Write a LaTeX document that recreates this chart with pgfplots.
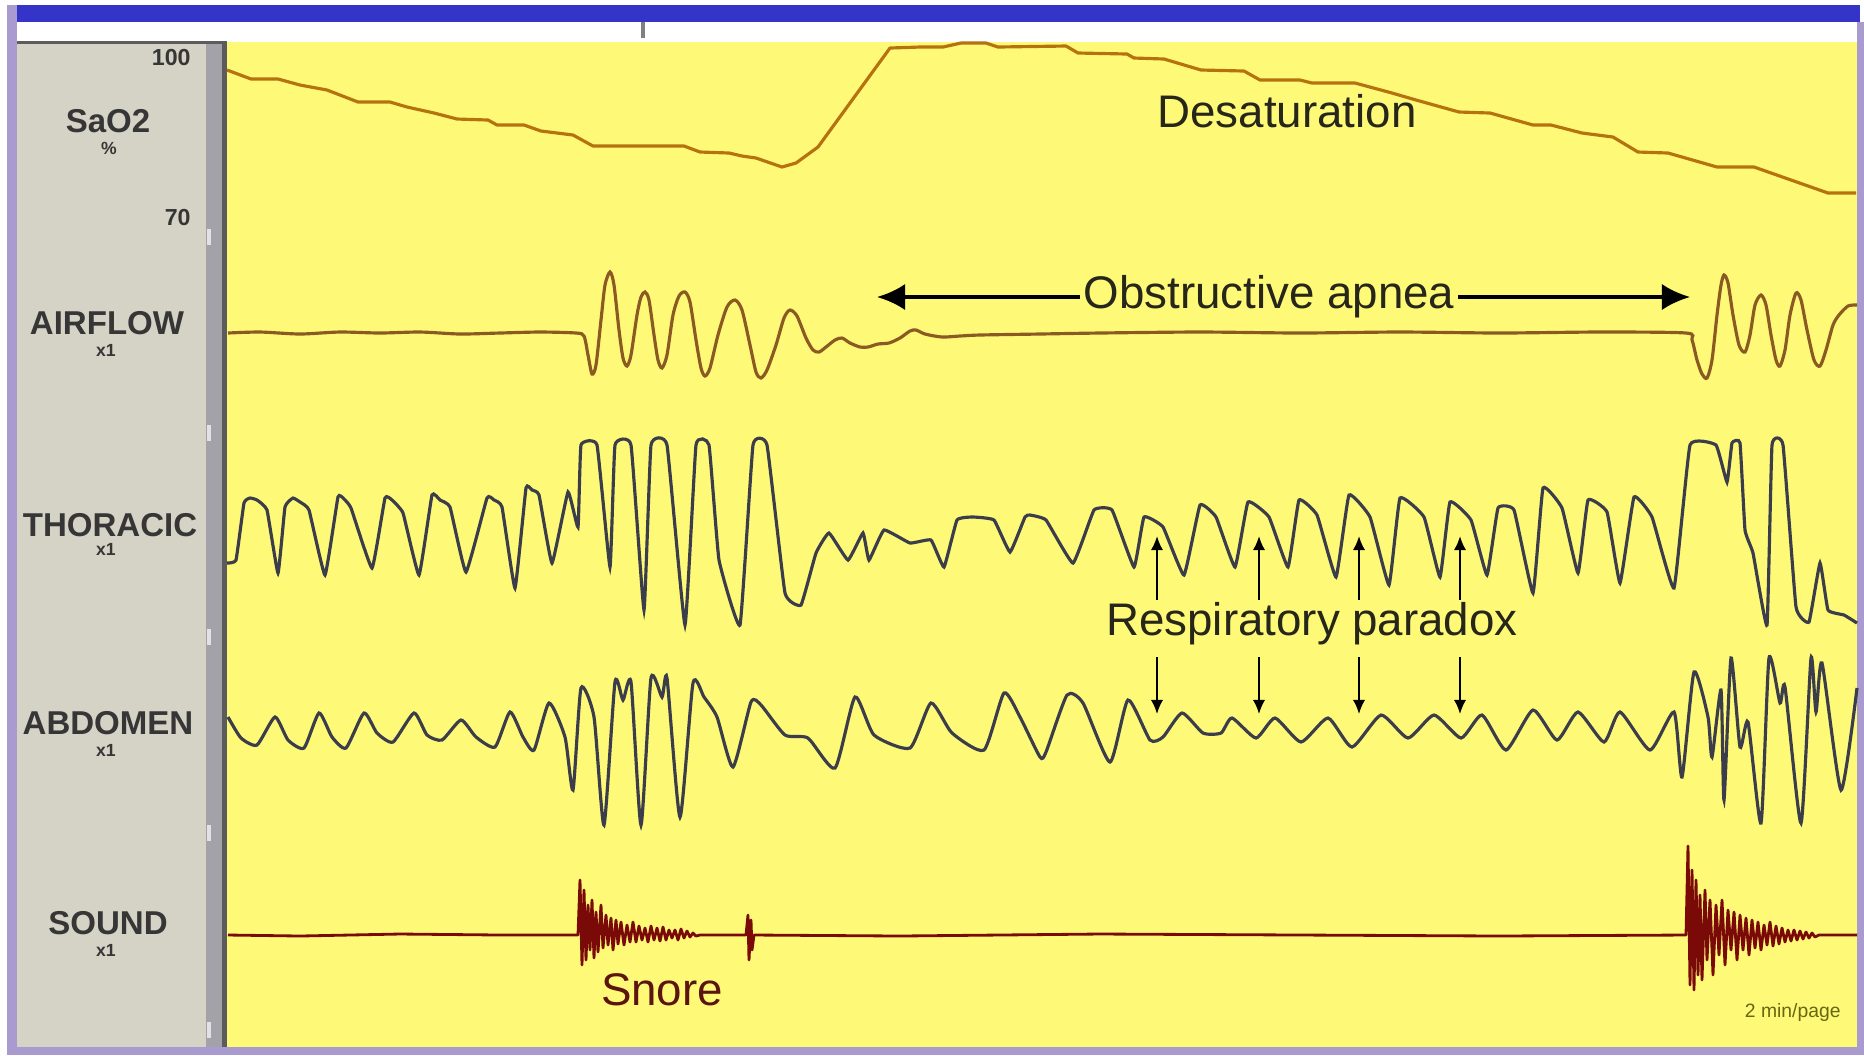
\documentclass[border=0pt]{standalone}
\usepackage{pgfplots}
\pgfplotsset{compat=1.18}
\usepackage{fontspec}
\setmainfont{Liberation Sans}
\usetikzlibrary{arrows.meta}
\definecolor{bgyellow}{HTML}{FFF978}
\definecolor{panelgray}{HTML}{D5D3C6}
\definecolor{stripgray}{HTML}{A3A2A8}
\definecolor{darkline}{HTML}{5C5C5C}
\definecolor{frameblue}{HTML}{3434C8}
\definecolor{framepurple}{HTML}{A99BCF}
\definecolor{saocol}{HTML}{B5720E}
\definecolor{aircol}{HTML}{8A5A22}
\definecolor{effcol}{HTML}{3B3D4A}
\definecolor{sndcol}{HTML}{7A0A08}
\definecolor{labcol}{HTML}{363636}
\definecolor{anncol}{HTML}{26261A}
\definecolor{snorecol}{HTML}{5C1410}
\definecolor{tickmark}{HTML}{E2E2E6}
\begin{document}
\begin{tikzpicture}
\begin{axis}[width=18.64cm, height=10.55cm, scale only axis,
  xmin=0, xmax=1864, ymin=0, ymax=1055, y dir=reverse,
  hide axis, clip=false]
% frame and panels
\fill[white] (axis cs:0,0) rectangle (axis cs:1864,1055);
\fill[frameblue] (axis cs:17,5) rectangle (axis cs:1860,22);
\fill[framepurple] (axis cs:7,5) rectangle (axis cs:17,1055);
\fill[framepurple] (axis cs:7,1047) rectangle (axis cs:1864,1055);
\fill[framepurple] (axis cs:1857,22) rectangle (axis cs:1864,1055);
\fill[panelgray] (axis cs:17,42) rectangle (axis cs:213,1047);
\fill[stripgray] (axis cs:206,42) rectangle (axis cs:222,1047);
\fill[darkline] (axis cs:222,42) rectangle (axis cs:227,1047);
\fill[bgyellow] (axis cs:227,42) rectangle (axis cs:1857,1047);
\fill[darkline] (axis cs:17,41) rectangle (axis cs:227,44);
\fill[gray] (axis cs:641,22) rectangle (axis cs:645,38);
\fill[tickmark] (axis cs:207,229) rectangle (axis cs:211,245);
\fill[tickmark] (axis cs:207,425) rectangle (axis cs:211,441);
\fill[tickmark] (axis cs:207,629) rectangle (axis cs:211,645);
\fill[tickmark] (axis cs:207,825) rectangle (axis cs:211,841);
\fill[tickmark] (axis cs:207,1022) rectangle (axis cs:211,1038);
% SaO2
\addplot[saocol, line width=0.9pt, line join=round] coordinates {
(227,70)(251,79)(278,79)(300,85)(327,90)(358,102)(390,102)(407,107)(434,113)(457,119)(488,120)(497,125)(524,125)(541,131)(573,135)(593,146)(684,146)(700,152)(729,153)(742,156)(756,158)(782,167)(796,163)(818,147)(890,48)(920,47)(943,47)(961,43)(986,43)(998,47)(1066,46)(1078,53)(1127,54)(1134,58)(1164,59)(1201,70)(1244,71)(1260,80)(1300,80)(1312,83)(1355,83)(1392,93)(1416,100)(1459,112)(1490,113)(1533,125)(1551,125)(1582,133)(1613,137)(1638,152)(1668,153)(1717,167)(1754,167)(1791,180)(1828,193)(1856,193)
};
% AIRFLOW
\addplot[aircol, line width=0.9pt, smooth, tension=0.45] coordinates {
(228,333)(260,332)(300,334)(340,332)(380,333)(420,332)(460,334)(500,333)(540,332)(576,333)(584,336)(588,355)(592,374)(596,365)(601,320)(605,285)(610,272)(614,285)(619,330)(623,358)(627,366)(631,355)(637,315)(641,297)(645,292)(649,300)(654,335)(658,360)(662,368)(667,355)(673,315)(679,296)(685,292)(690,302)(696,340)(701,368)(705,376)(710,368)(718,335)(727,307)(735,300)(742,310)(750,345)(756,372)(761,378)(767,370)(776,345)(784,318)(790,310)(797,316)(806,338)(813,350)(819,352)(826,347)(835,340)(842,338)(850,343)(860,347)(868,347)(878,344)(889,343)(900,338)(910,331)(916,330)(925,334)(942,337)(960,336)(980,335)(1040,334)(1100,333)(1200,332)(1300,333)(1400,332)(1500,333)(1600,332)(1686,333)(1692,340)(1697,360)(1702,374)(1707,378)(1712,360)(1717,315)(1721,285)(1724,275)(1728,283)(1733,315)(1739,345)(1745,352)(1750,335)(1755,305)(1761,295)(1766,305)(1771,335)(1776,360)(1780,366)(1785,350)(1790,315)(1796,293)(1801,300)(1807,330)(1814,360)(1820,366)(1826,350)(1833,325)(1839,315)(1848,306)(1857,305)
};
% THORACIC
\addplot[effcol, line width=0.9pt, smooth, tension=0.2] coordinates {
(227,563)(236,560)(244,503)(250,498)(257,500)(267,510)(278,573)(285,507)(293,498)(300,502)(309,510)(325,575)(338,497)(344,499)(351,508)(372,568)(385,498)(392,500)(403,513)(419,575)(432,495)(440,500)(450,507)(466,572)(487,498)(494,500)(502,507)(515,588)(526,488)(532,490)(539,495)(552,563)(568,492)(578,527)(581,445)(597,445)(610,567)(615,445)(631,445)(644,610)(651,445)(667,445)(685,625)(696,445)(709,445)(719,560)(740,625)(753,445)(767,445)(785,593)(801,605)(816,553)(829,533)(848,560)(863,533)(869,560)(884,530)(910,543)(931,540)(944,567)(957,520)(973,517)(994,520)(1010,552)(1025,517)(1030,515)(1046,520)(1073,563)(1094,510)(1112,510)(1134,567)(1144,517)(1163,527)(1184,575)(1200,505)(1216,517)(1235,567)(1248,502)(1269,517)(1288,567)(1299,500)(1317,515)(1336,577)(1349,495)(1370,517)(1389,585)(1400,498)(1424,517)(1440,577)(1450,502)(1471,520)(1487,575)(1498,508)(1514,510)(1533,593)(1543,488)(1562,508)(1578,573)(1588,500)(1607,512)(1620,583)(1634,497)(1652,517)(1674,588)(1690,445)(1716,445)(1727,482)(1732,443)(1740,443)(1745,530)(1753,553)(1767,625)(1772,445)(1783,445)(1796,607)(1809,622)(1820,563)(1828,610)(1844,615)(1857,623)
};
% ABDOMEN
\addplot[effcol, line width=0.9pt, smooth, tension=0.35] coordinates {
(228,717)(241,738)(257,745)(275,717)(288,740)(304,748)(319,713)(332,737)(346,748)(364,713)(377,733)(393,742)(414,713)(427,735)(442,740)(461,720)(476,737)(495,747)(510,712)(523,737)(534,750)(549,703)(565,737)(573,790)(581,688)(594,717)(604,825)(615,682)(623,700)(631,682)(641,825)(651,678)(662,697)(667,678)(680,817)(693,683)(704,697)(717,717)(733,767)(751,702)(761,705)(785,735)(808,738)(835,768)(855,697)(874,735)(910,748)(931,703)(952,733)(984,750)(1004,693)(1020,717)(1040,757)(1046,752)(1067,695)(1083,703)(1110,762)(1128,700)(1150,740)(1163,737)(1182,713)(1203,733)(1221,733)(1232,718)(1256,738)(1275,718)(1301,742)(1328,718)(1352,747)(1381,715)(1408,738)(1434,715)(1461,738)(1482,715)(1506,750)(1533,710)(1557,740)(1578,712)(1604,742)(1620,712)(1650,750)(1674,712)(1682,777)(1694,672)(1708,717)(1712,757)(1721,690)(1724,800)(1731,658)(1740,747)(1748,722)(1761,823)(1769,658)(1780,703)(1785,687)(1801,823)(1811,658)(1816,712)(1822,663)(1841,790)(1857,688)
};
% SOUND
\addplot[sndcol, line width=0.8pt, line join=round] coordinates {
(228,935)(300,936)(400,934)(500,935)(578,935)(580,880)(582,965)(584,890)(586,960)(588,905)(590,950)(592,900)(594,958)(596,912)(598,952)(601,905)(603,948)(606,915)(608,945)(611,918)(613,950)(616,920)(618,944)(621,922)(624,945)(627,925)(630,942)(633,922)(636,942)(639,926)(642,940)(645,928)(648,942)(651,926)(654,940)(657,928)(660,941)(663,927)(666,940)(669,930)(672,938)(675,930)(678,940)(681,929)(684,938)(687,931)(690,937)(693,933)(696,936)(700,935)(746,935)(748,915)(749,960)(751,920)(752,950)(754,935)(900,936)(1100,934)(1300,935)(1500,936)(1686,935)(1688,846)(1690,985)(1692,870)(1694,990)(1696,880)(1698,975)(1700,895)(1702,980)(1705,890)(1707,960)(1710,900)(1713,975)(1716,905)(1719,955)(1722,900)(1725,965)(1728,910)(1731,950)(1734,912)(1737,960)(1740,915)(1743,950)(1746,918)(1749,955)(1752,920)(1755,948)(1758,922)(1761,950)(1764,925)(1767,945)(1770,922)(1773,946)(1776,926)(1779,944)(1782,928)(1785,942)(1788,930)(1791,941)(1794,930)(1797,940)(1800,931)(1803,939)(1806,932)(1809,938)(1812,933)(1815,937)(1819,935)(1857,935)
};
% channel labels
\node[labcol, font=\fontsize{9.4pt}{10pt}\selectfont\bfseries] at (axis cs:108,121) {SaO2};
\node[labcol, font=\fontsize{5pt}{6pt}\selectfont\bfseries] at (axis cs:109,148) {\%};
\node[labcol, font=\fontsize{6.6pt}{7pt}\selectfont\bfseries, anchor=east] at (axis cs:203,57) {100};
\node[labcol, font=\fontsize{6.6pt}{7pt}\selectfont\bfseries, anchor=east] at (axis cs:203,217) {70};
\node[labcol, font=\fontsize{9.4pt}{10pt}\selectfont\bfseries] at (axis cs:107,323) {AIRFLOW};
\node[labcol, font=\fontsize{5pt}{6pt}\selectfont\bfseries] at (axis cs:106,350) {x1};
\node[labcol, font=\fontsize{9.4pt}{10pt}\selectfont\bfseries] at (axis cs:110,525) {THORACIC};
\node[labcol, font=\fontsize{5pt}{6pt}\selectfont\bfseries] at (axis cs:106,549) {x1};
\node[labcol, font=\fontsize{9.4pt}{10pt}\selectfont\bfseries] at (axis cs:108,723) {ABDOMEN};
\node[labcol, font=\fontsize{5pt}{6pt}\selectfont\bfseries] at (axis cs:106,750) {x1};
\node[labcol, font=\fontsize{9.4pt}{10pt}\selectfont\bfseries] at (axis cs:108,923) {SOUND};
\node[labcol, font=\fontsize{5pt}{6pt}\selectfont\bfseries] at (axis cs:106,950) {x1};
% annotations
\node[anncol, font=\fontsize{13pt}{14pt}\selectfont] at (axis cs:1287,111) {Desaturation};
\node[anncol, font=\fontsize{13pt}{14pt}\selectfont, inner sep=1pt] at (axis cs:1269,297) {Obstructive apnea};
\draw[black, line width=1.1pt, -{Latex[length=8pt,width=7.5pt]}] (axis cs:1080,297) -- (axis cs:877,297);
\draw[black, line width=1.1pt, -{Latex[length=8pt,width=7.5pt]}] (axis cs:1458,297) -- (axis cs:1690,297);
\node[anncol, font=\fontsize{13pt}{14pt}\selectfont] at (axis cs:1312,624) {Respiratory paradox};
\draw[black, line width=0.6pt, -{Latex[length=4pt,width=3.5pt]}] (axis cs:1157,600) -- (axis cs:1157,536);
\draw[black, line width=0.6pt, -{Latex[length=4pt,width=3.5pt]}] (axis cs:1259,600) -- (axis cs:1259,536);
\draw[black, line width=0.6pt, -{Latex[length=4pt,width=3.5pt]}] (axis cs:1359,600) -- (axis cs:1359,536);
\draw[black, line width=0.6pt, -{Latex[length=4pt,width=3.5pt]}] (axis cs:1460,600) -- (axis cs:1460,536);
\draw[black, line width=0.6pt, -{Latex[length=4pt,width=3.5pt]}] (axis cs:1157,657) -- (axis cs:1157,714);
\draw[black, line width=0.6pt, -{Latex[length=4pt,width=3.5pt]}] (axis cs:1259,657) -- (axis cs:1259,714);
\draw[black, line width=0.6pt, -{Latex[length=4pt,width=3.5pt]}] (axis cs:1359,657) -- (axis cs:1359,714);
\draw[black, line width=0.6pt, -{Latex[length=4pt,width=3.5pt]}] (axis cs:1460,657) -- (axis cs:1460,714);
\node[snorecol, font=\fontsize{13pt}{14pt}\selectfont] at (axis cs:662,990) {Snore};
\node[anncol!70!yellow, font=\fontsize{5.5pt}{6pt}\selectfont, anchor=east] at (axis cs:1853,1012) {2 min/page};
\end{axis}
\end{tikzpicture}
\end{document}
